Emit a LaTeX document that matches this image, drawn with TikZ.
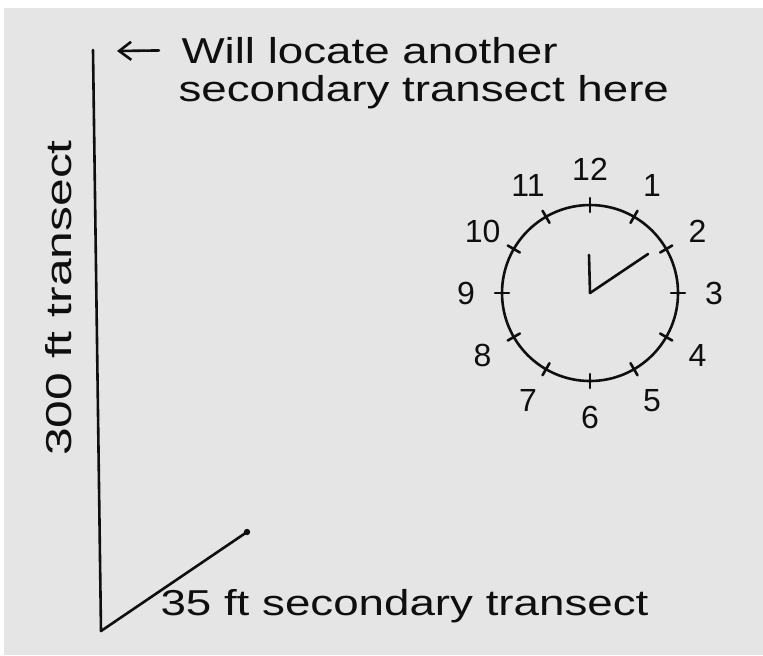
\documentclass[tikz,border=0pt]{standalone}
\usepackage{fontspec}
\usepackage{xcolor}
\usepackage{tikz}
\usetikzlibrary{arrows.meta, positioning, calc}
\setmainfont{Liberation Sans}
\definecolor{paper}{RGB}{229, 229, 229}
\definecolor{ink}{RGB}{15, 15, 15}

\tikzset{
    pen/.style={ink, line width=1.3pt, line cap=round},
    handtext/.style={inner sep=0pt, text=ink, font=\fontsize{18}{22}\selectfont, xscale=1.27, transform shape},
    hour/.style={inner sep=0pt, text=ink, font=\fontsize{16}{18}\selectfont}
}

\begin{document}
\begin{tikzpicture}[x=0.5pt, y=-0.5pt]
        % Paper
        \useasboundingbox (0,0) rectangle (763,655);
        \fill[white] (0,0) rectangle (763,655);
        \fill[paper] (4,8) rectangle (763,655);

        % Transects
        \coordinate (top) at (93,50);
        \coordinate (corner) at (101,631);
        \coordinate (far) at (247,532);
        \draw[pen] (top) -- (corner);
        \draw[pen] (corner) -- (far);
        \fill[ink] (far) circle (1.6pt);

        \node[rotate=90, handtext, xscale=1.09, anchor=base] (main) at (71,298) {300 ft transect};
        \node[handtext, anchor=base west] (second) at (160,615) {35 ft secondary transect};

        % Note at top
        \node[handtext, anchor=base west] (will) at (181,63) {Will locate another};
        \node[handtext, anchor=base west] (here) at (178,101) {secondary transect here};
        \coordinate (tip) at (117,51);
        \draw[pen, -{Straight Barb[length=6pt, width=9pt]}, shorten <=11pt] (will.west) -- (tip);

        % Clock
        \node[draw, pen, circle, minimum size=88pt, inner sep=0pt] (clock) at (590,293) {};
        \begin{scope}[shift={(clock.center)}, y=0.5pt]
            \foreach \h in {1,...,12} {
                \draw[pen] (90-30*\h:81) -- (90-30*\h:95);
                \node[hour] (h\h) at (90-30*\h:124) {\h};
            }
        \end{scope}
        \coordinate (short) at (589,255);
        \coordinate (long) at (648,254);
        \draw[pen] (clock.center) -- (short);
        \draw[pen] (clock.center) -- (long);
    \end{tikzpicture}
\end{document}
